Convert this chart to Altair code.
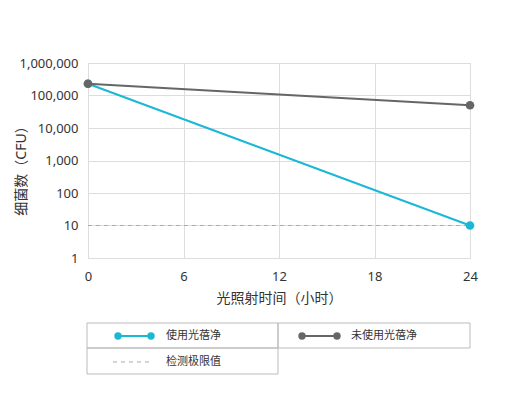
import altair as alt
import pandas as pd

hours = [0, 24]
with_product = [230000, 10]
without_product = [230000, 50000]
detection_limit = 10
series_names = ["使用光蓓净", "未使用光蓓净"]
limit_name = "检测极限值"
y_ticks = [1, 10, 100, 1000, 10000, 100000, 1000000]
x_ticks = [0, 6, 12, 18, 24]

CYAN = "#1bb8d6"
GREY = "#666666"
FONT = "Noto Sans, Noto Sans CJK SC"
TXT = "#333333"

df = pd.DataFrame({
    "hour": hours * 2,
    "cfu": with_product + without_product,
    "series": [series_names[0]] * 2 + [series_names[1]] * 2,
})
lim_df = pd.DataFrame({"hour": [hours[0], hours[-1]], "cfu": [detection_limit] * 2})

W, H = 382, 195

common = dict(tickSize=0, domain=False, grid=True, labelFlush=False,
              labelFont=FONT, titleFont=FONT, labelFontSize=13, titleFontSize=14,
              labelColor=TXT, titleColor=TXT, titleFontWeight="normal",
              gridColor="#dddddd", gridWidth=1)

xenc = alt.X("hour:Q", scale=alt.Scale(domain=[0, 24], nice=False),
             axis=alt.Axis(values=x_ticks, title="光照射时间（小时）", labelPadding=12,
                           titleY=40, titleBaseline="middle", **common))
yenc = alt.Y("cfu:Q", scale=alt.Scale(type="log", domain=[1, 1000000], nice=False),
             axis=alt.Axis(values=y_ticks, format=",", title="细菌数（CFU）", labelPadding=10,
                           titleX=-67, titleY=104, titleBaseline="middle", titleAlign="center",
                           **common))
colors = alt.Color("series:N", scale=alt.Scale(domain=series_names, range=[CYAN, GREY]), legend=None)

lines = alt.Chart(df).mark_line(strokeWidth=2).encode(x=xenc, y=yenc, color=colors, detail="series:N")
pts = alt.Chart(df).mark_point(filled=True, size=75, opacity=1).encode(x="hour:Q", y="cfu:Q", color=colors)
limit = alt.Chart(lim_df).mark_line(color="#aaaaaa", strokeDash=[4, 4], strokeWidth=1).encode(x="hour:Q", y="cfu:Q")

one = pd.DataFrame({"a": [0]})

def rect(x1, x2, y1, y2):
    return alt.Chart(one).mark_rect(fillOpacity=0, stroke="#bbbbbb", strokeWidth=1).encode(
        x=alt.value(x1), x2=alt.value(x2), y=alt.value(y1), y2=alt.value(y2))

def seg(x1, x2, y, color, dash=None):
    kw = dict(color=color, strokeWidth=2 if dash is None else 1)
    if dash is not None:
        kw["strokeDash"] = dash
    return alt.Chart(one).mark_rule(**kw).encode(x=alt.value(x1), x2=alt.value(x2), y=alt.value(y))

def dot(x, y, color):
    return alt.Chart(one).mark_point(filled=True, size=55, opacity=1, color=color).encode(
        x=alt.value(x), y=alt.value(y))

def label(x, y, t):
    return alt.Chart(pd.DataFrame({"t": [t]})).mark_text(
        align="left", baseline="middle", font=FONT, fontSize=11, color=TXT).encode(
        x=alt.value(x), y=alt.value(y), text="t:N")

ox, oy = 88, 63
legend_layers = [
    rect(87 - ox, 278 - ox, 323 - oy, 348 - oy),
    rect(278 - ox, 470 - ox, 323 - oy, 348 - oy),
    rect(87 - ox, 278 - ox, 348 - oy, 374 - oy),
    seg(118 - ox, 151 - ox, 336 - oy, CYAN), dot(118 - ox, 336 - oy, CYAN), dot(151 - ox, 336 - oy, CYAN),
    label(166 - ox, 336 - oy, series_names[0]),
    seg(302 - ox, 337 - ox, 336 - oy, GREY), dot(302 - ox, 336 - oy, GREY), dot(337 - ox, 336 - oy, GREY),
    label(351 - ox, 336 - oy, series_names[1]),
    seg(113 - ox, 153 - ox, 362 - oy, "#aaaaaa", [4, 4]),
    label(166 - ox, 362 - oy, limit_name),
]

chart = alt.layer(limit, lines, pts, *legend_layers).properties(
    width=W, height=H,
    autosize=alt.AutoSizeParams(type="none"),
    padding={"left": 88, "top": 63, "right": 40, "bottom": 139},
).configure_view(stroke=None).configure(background="white")

chart.save("out.html", embed_options={"renderer": "svg", "actions": False})
